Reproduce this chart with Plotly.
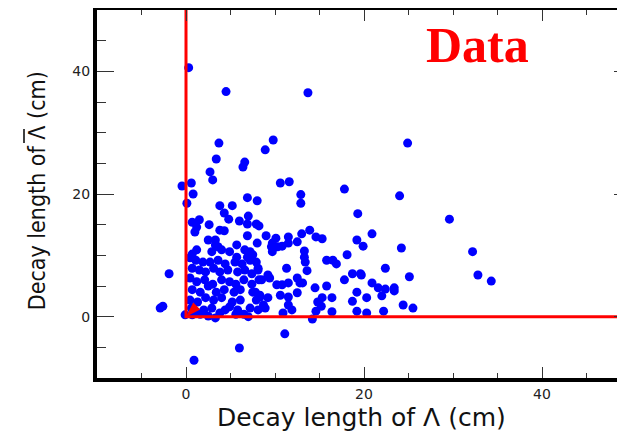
import plotly.graph_objects as go

# Decay length of Lambda (cm) and of anti-Lambda (cm)
lam_x = [0.3, 4.5, 13.7, 3.7, 9.8, 8.9, 24.9, 3.4, 6.6, 6.4, 2.7, 3.0, -0.45, 0.6, 0.8,
         10.6, 11.6, 12.9, 12.9, 17.8, 24.0, 29.6, 19.3, 0.1, 3.8, 5.2, 6.9, 8.0, 4.3, 4.8,
         7.0, 6.0, 0.7, 1.5, 1.2, 1.0, 2.6, 3.8, 4.3, 6.9, 7.9, 6.9, 2.5, 3.3, 3.3,
         3.6, 4.0, 2.9, 1.2, 0.7, 4.9, 5.7, 6.6, 7.2, 6.9, 7.5, 8.0, 5.7,
         8.2, 9.0, 10.1, 9.7, 9.6, 11.5, 11.5, 10.8, 10.3, 12.5, 13.0, 13.9, 14.6, 15.3,
         9.7, 13.3, 13.3, 19.2, 19.9, 18.1, 15.8, 16.5, 16.9,
         20.9, 24.2, 13.4, 13.6, 32.2, 22.4, 17.8, 18.7, 19.6, 13.1, 20.9, 14.5, 15.8,
         21.6, 22.4, 23.4, 23.4, 25.1, 32.8, 34.3, 19.2, 22.0, 20.3, 18.7, 15.3, 16.4,
         14.8, 15.2, 14.6, 16.4, 19.2, 20.3, 22.2, 24.4, 25.5, 14.2, 19.7,
         11.3, 8.1, 9.2, 9.4, 8.5, 8.3, 10.2, 10.8, 11.5, 12.5, 12.8,
         7.8, 8.3, 9.2, 10.6, 11.5, 12.5, 8.7, 8.9, 11.5, 11.9, 10.9,
         -1.9, -2.9, -2.6, -0.1, 3.3, 7.0, 6.0, 0.9, 11.1,
         0.45, 1.1, 1.9, 2.7, 3.6, 4.4, 5.5, 6.3, 7.2, 7.9,
         0.7, 1.5, 2.2, 3.1, 3.8, 4.7, 5.8, 6.6, 7.4, 8.1,
         0.45, 1.2, 2.1, 3.0, 4.0, 4.9, 5.6, 6.5, 7.4, 8.2,
         0.7, 1.6, 2.5, 3.4, 4.3, 5.4, 6.1, 7.5,
         0.45, 1.3, 2.2, 3.1, 4.0, 5.2, 6.1, 7.9,
         0.6, 1.1, 2.0, 2.9, 4.4, 4.9, 5.8, 7.2, 8.1,
         0.7, 1.6, 2.5, 3.8, 5.6, 6.5]
lambar_y = [40.6, 36.7, 36.5, 28.3, 28.8, 27.2, 28.3, 25.7, 25.2, 24.4, 23.6, 22.3, 21.3, 21.8, 20.0,
            21.8, 22.0, 19.9, 18.5, 20.8, 19.7, 15.9, 16.8, 18.5, 18.1, 18.1, 19.4, 18.9, 16.9, 15.9,
            16.4, 15.6, 15.4, 15.8, 14.6, 13.8, 15.0, 14.1, 14.0, 15.1, 15.1, 13.2, 12.5, 12.5, 11.7,
            11.4, 10.9, 10.6, 10.9, 10.2, 10.6, 11.7, 10.9, 10.6, 9.7, 10.1, 12.0, 9.7,
            14.8, 13.2, 12.8, 12.0, 11.4, 13.0, 12.0, 11.5, 11.4, 12.2, 13.5, 14.1, 13.0, 12.7,
            10.6, 10.7, 9.7, 12.5, 11.5, 10.1, 9.2, 9.2, 8.6,
            13.5, 11.2, 8.9, 7.5, 10.6, 7.9, 6.0, 7.0, 7.0, 5.5, 5.5, 4.7, 5.0,
            4.7, 4.5, 4.7, 4.2, 6.5, 6.8, 5.8, 4.0, 3.4, 3.1, 2.5, 3.1, 3.1,
            2.4, 1.7, 0.9, 0.8, 0.9, 0.6, 0.9, 1.9, 1.4, -0.4, 6.8,
            7.9, 7.9, 6.8, 6.3, 6.0, 3.5, 5.2, 5.2, 5.5, 6.3, 5.5,
            4.0, 3.2, 3.1, 3.5, 3.2, 3.9, 1.9, 1.4, 1.9, 1.1, 0.6,
            7.0, 1.4, 1.7, 0.3, -0.2, 0.0, -5.1, -7.1, -2.8,
            9.6, 9.2, 8.9, 8.9, 9.2, 8.6, 8.9, 8.6, 9.2, 8.9,
            7.9, 7.6, 7.3, 7.9, 7.3, 7.6, 7.3, 7.6, 7.0, 7.6,
            6.3, 5.7, 6.0, 5.3, 6.0, 5.7, 5.3, 6.0, 5.3, 6.0,
            4.4, 4.0, 5.0, 4.0, 4.4, 4.0, 4.4, 4.0,
            2.7, 2.4, 3.1, 2.7, 3.1, 2.4, 2.7, 2.7,
            1.4, 0.8, 1.1, 1.4, 1.1, 1.6, 1.1, 1.4, 1.1,
            0.3, 0.4, 0.1, 0.6, 0.4, 0.4]

# selection cut lines (cm)
cut_x = [0, 0, 50]
cut_y = [50, 0, 0]
origin_x = [0]
origin_y = [0]

x_range = [-10, 50]
y_range = [-10, 50]

x_title = "Decay length of \u039b (cm)"
y_title = "Decay length of \u039b (cm)"
label_text = "Data"

fig = go.Figure()
fig.add_trace(go.Scatter(x=lam_x, y=lambar_y, mode="markers",
                         marker=dict(color="#0000ff", size=9, line=dict(width=0)),
                         showlegend=False, hoverinfo="skip"))
fig.add_trace(go.Scatter(x=cut_x, y=cut_y, mode="lines",
                         line=dict(color="#ff0000", width=3), showlegend=False))
fig.add_trace(go.Scatter(x=origin_x, y=origin_y, mode="markers", yaxis="y2",
                         marker=dict(symbol="arrow", angle=225, size=16, color="#ff0000"),
                         showlegend=False))

tickfont = dict(family="DejaVu Sans", size=14, color="#222222")

fig.update_layout(
    width=625, height=432,
    margin=dict(l=89, r=2, t=2, b=62, autoexpand=False),
    paper_bgcolor="white", plot_bgcolor="white",
    showlegend=False,
    xaxis=dict(range=x_range, showline=True, linewidth=4, linecolor="black", mirror="ticks",
               ticks="inside", ticklen=11, tickwidth=1, tickcolor="#333333",
               tick0=0, dtick=20, showgrid=False, zeroline=False, tickfont=tickfont,
               automargin=False,
               minor=dict(ticks="inside", ticklen=5, tickwidth=1, tickcolor="#333333",
                          tick0=0, dtick=5, showgrid=False)),
    yaxis=dict(range=y_range, showline=True, linewidth=4, linecolor="black", mirror=False,
               ticks="inside", ticklen=17, tickwidth=1, tickcolor="#333333",
               tick0=0, dtick=20, showgrid=False, zeroline=False, tickfont=tickfont,
               automargin=False,
               minor=dict(ticks="inside", ticklen=9, tickwidth=1, tickcolor="#333333",
                          tick0=0, dtick=5, showgrid=False)),
    yaxis2=dict(range=y_range, overlaying="y", side="right", anchor="x", showline=False,
                ticks="inside", ticklen=17, tickwidth=1, tickcolor="#333333",
                tick0=0, dtick=20, showticklabels=False, showgrid=False, zeroline=False,
                automargin=False,
                minor=dict(ticks="inside", ticklen=9, tickwidth=1, tickcolor="#333333",
                           tick0=0, dtick=5, showgrid=False)),
    annotations=[
        dict(text=x_title, xref="paper", yref="paper", x=0.496, y=-0.107,
             showarrow=False, xanchor="center", yanchor="middle",
             font=dict(family="DejaVu Sans", size=25, color="#111111")),
        dict(text=y_title, xref="paper", yref="paper", x=-0.112, y=0.508,
             showarrow=False, xanchor="center", yanchor="middle", textangle=-90,
             font=dict(family="DejaVu Sans Condensed, DejaVu Sans", size=23, color="#111111")),
        dict(text="<b>" + label_text + "</b>", xref="paper", yref="paper", x=0.712, y=0.905,
             showarrow=False, xanchor="center", yanchor="middle",
             font=dict(family="Liberation Serif", size=50, color="#ff0000")),
    ],
    shapes=[
        # bar over the Lambda in the y-axis title (anti-Lambda)
        dict(type="line", xref="paper", yref="paper", x0=-0.1367, x1=-0.1367,
             y0=0.6386, y1=0.6766, line=dict(color="#111111", width=1.6)),
    ],
)

fig.write_html("out.html")
